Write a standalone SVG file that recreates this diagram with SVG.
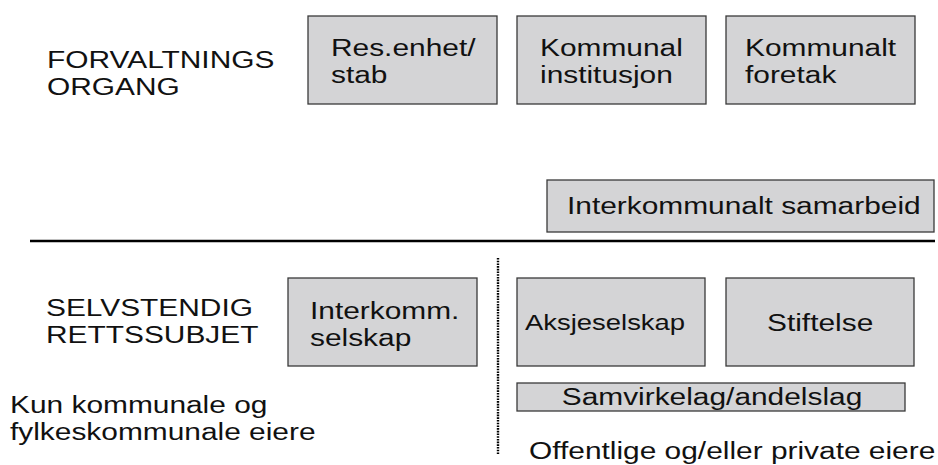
<svg xmlns="http://www.w3.org/2000/svg" width="938" height="465" viewBox="0 0 938 465">
<style>
.box{fill:#d4d4d6;stroke:#3a3a3a;stroke-width:1.3}
.t{font-family:"Liberation Sans",Arial,sans-serif;font-size:24.5px;fill:#111}
.s{font-size:22.5px}
.c{text-anchor:middle}
</style>
<rect width="938" height="465" fill="#fff"/>
<g id="labels">
<text class="t" transform="translate(47,68) scale(1.22,1)">FORVALTNINGS</text>
<text class="t" transform="translate(47,95) scale(1.22,1)">ORGANG</text>
<text class="t" transform="translate(46,316) scale(1.22,1)">SELVSTENDIG</text>
<text class="t" transform="translate(46,343) scale(1.22,1)">RETTSSUBJET</text>
<text class="t" transform="translate(10,413) scale(1.22,1)">Kun kommunale og</text>
<text class="t" transform="translate(10,440) scale(1.22,1)">fylkeskommunale eiere</text>
<text class="t" transform="translate(529,459) scale(1.22,1)">Offentlige og/eller private eiere</text>
</g>
<g id="connectors">
<line x1="30" y1="241" x2="935" y2="241" stroke="#000" stroke-width="2.6"/>
<line x1="498" y1="258" x2="498" y2="455" stroke="#000" stroke-width="2.4" stroke-dasharray="1.6 1.1"/>
</g>
<g id="res-enhet">
<rect class="box" x="308" y="16" width="189" height="88"/>
<text class="t" transform="translate(331,56) scale(1.22,1)">Res.enhet/</text>
<text class="t" transform="translate(331,83) scale(1.22,1)">stab</text>
</g>
<g id="kommunal-institusjon">
<rect class="box" x="517" y="16" width="189" height="88"/>
<text class="t" transform="translate(540,56) scale(1.22,1)">Kommunal</text>
<text class="t" transform="translate(540,83) scale(1.22,1)">institusjon</text>
</g>
<g id="kommunalt-foretak">
<rect class="box" x="726" y="16" width="189" height="88"/>
<text class="t" transform="translate(745,56) scale(1.22,1)">Kommunalt</text>
<text class="t" transform="translate(745,83) scale(1.22,1)">foretak</text>
</g>
<g id="interkommunalt-samarbeid">
<rect class="box" x="547" y="180" width="387" height="52"/>
<text class="t" transform="translate(567,214) scale(1.22,1)">Interkommunalt samarbeid</text>
</g>
<g id="interkomm-selskap">
<rect class="box" x="288" y="278" width="189" height="88"/>
<text class="t" transform="translate(310,319) scale(1.22,1)">Interkomm.</text>
<text class="t" transform="translate(310,346) scale(1.22,1)">selskap</text>
</g>
<g id="aksjeselskap">
<rect class="box" x="517" y="278" width="188" height="88"/>
<text class="t s" transform="translate(525,330) scale(1.22,1)">Aksjeselskap</text>
</g>
<g id="stiftelse">
<rect class="box" x="726" y="278" width="188" height="88"/>
<text class="t" transform="translate(767,331) scale(1.22,1)">Stiftelse</text>
</g>
<g id="samvirkelag">
<rect class="box" x="517" y="383" width="388" height="28"/>
<text class="t c" transform="translate(712,405) scale(1.22,1)">Samvirkelag/andelslag</text>
</g>
</svg>
